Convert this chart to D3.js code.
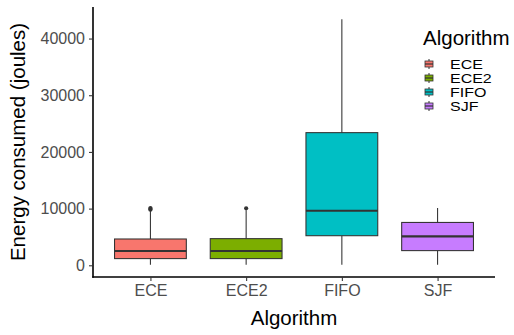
<!DOCTYPE html>
<html>
<head>
<meta charset="utf-8">
<script src="https://cdn.jsdelivr.net/npm/d3@7"></script>
<style>
  body { margin: 0; background: #fff; }
  svg { display: block; font-family: "Liberation Sans", Arial, sans-serif; }
</style>
</head>
<body>
<div id="chart"></div>
<script>
// values
var algorithms = ["ECE", "ECE2", "FIFO", "SJF"];
var fill_colors = ["#F8766D", "#7CAE00", "#00BFC4", "#C77CFF"];
var whisker_low = [100, 100, 100, 100];
var box_q1 = [1180, 1180, 5220, 2590];
var box_median = [2530, 2530, 9620, 5100];
var box_q3 = [4640, 4700, 23400, 7560];
var whisker_high = [9600, 9700, 43400, 10100];
var outliers = [[9800, 9950, 10100], [10050], [], []];
var y_ticks = [0, 10000, 20000, 30000, 40000];

var width = 514, height = 335;
var margin = {top: 7, right: 19, bottom: 58, left: 93};

var svg = d3.select("#chart").append("svg")
    .attr("width", width)
    .attr("height", height);

// discrete x with ggplot-like 0.6 padding
var x = d3.scalePoint()
    .domain(algorithms)
    .range([margin.left, width - margin.right])
    .padding(0.6);
var step = x.step();
var box_w = step * 0.75;

var y_min = d3.min(whisker_low), y_max = d3.max(whisker_high);
var y_pad = (y_max - y_min) * 0.05;
var y = d3.scaleLinear()
    .domain([y_min - y_pad, y_max + y_pad])
    .range([height - margin.bottom, margin.top]);

var boxes = algorithms.map(function(a, i) {
    return {name: a, fill: fill_colors[i], lo: whisker_low[i], q1: box_q1[i],
        med: box_median[i], q3: box_q3[i], hi: whisker_high[i], out: outliers[i]};
});

var g = svg.append("g");
var bg = g.selectAll("g.box").data(boxes).enter().append("g").attr("class", "box");

// whiskers
bg.append("line")
    .attr("x1", function(d) { return x(d.name); })
    .attr("x2", function(d) { return x(d.name); })
    .attr("y1", function(d) { return y(d.q3); })
    .attr("y2", function(d) { return y(d.hi); })
    .attr("stroke", "#333333").attr("stroke-width", 1.07);
bg.append("line")
    .attr("x1", function(d) { return x(d.name); })
    .attr("x2", function(d) { return x(d.name); })
    .attr("y1", function(d) { return y(d.q1); })
    .attr("y2", function(d) { return y(d.lo); })
    .attr("stroke", "#333333").attr("stroke-width", 1.07);
bg.append("rect")
    .attr("x", function(d) { return x(d.name) - box_w / 2; })
    .attr("width", box_w)
    .attr("y", function(d) { return y(d.q3); })
    .attr("height", function(d) { return y(d.q1) - y(d.q3); })
    .attr("fill", function(d) { return d.fill; })
    .attr("stroke", "#333333").attr("stroke-width", 1.07);
bg.append("line")
    .attr("x1", function(d) { return x(d.name) - box_w / 2; })
    .attr("x2", function(d) { return x(d.name) + box_w / 2; })
    .attr("y1", function(d) { return y(d.med); })
    .attr("y2", function(d) { return y(d.med); })
    .attr("stroke", "#333333").attr("stroke-width", 2.13);
bg.selectAll("circle")
    .data(function(d) { return d.out.map(function(v) { return {name: d.name, v: v}; }); })
    .enter().append("circle")
    .attr("cx", function(d) { return x(d.name); })
    .attr("cy", function(d) { return y(d.v); })
    .attr("r", 2.1)
    .attr("fill", "#333333");

// axes
var x_axis = svg.append("g")
    .attr("transform", "translate(0," + (height - margin.bottom) + ")")
    .call(d3.axisBottom(x).tickSize(4).tickPadding(4).tickSizeOuter(0));
var y_axis = svg.append("g")
    .attr("transform", "translate(" + margin.left + ",0)")
    .call(d3.axisLeft(y).tickValues(y_ticks).tickFormat(d3.format("d")).tickSize(4).tickPadding(4).tickSizeOuter(0));
[x_axis, y_axis].forEach(function(ax) {
    ax.select(".domain").attr("stroke", "#000").attr("stroke-width", 1.6);
    ax.selectAll(".tick line").attr("stroke", "#333333").attr("stroke-width", 1.07);
    ax.selectAll(".tick text").attr("fill", "#4D4D4D").style("font-size", "16px")
        .style("font-family", "'Liberation Sans', Arial, sans-serif");
});
x_axis.select(".domain").attr("d", "M" + (margin.left - 0.8) + ",0H" + (width - margin.right));
y_axis.select(".domain").attr("d", "M0," + margin.top + "V" + (height - margin.bottom + 0.8));

// axis titles
svg.append("text")
    .attr("x", (margin.left + width - margin.right) / 2)
    .attr("y", 325)
    .attr("text-anchor", "middle")
    .style("font-size", "20.5px")
    .text("Algorithm");
svg.append("text")
    .attr("transform", "translate(25," + ((margin.top + height - margin.bottom) / 2) + ") rotate(-90)")
    .attr("text-anchor", "middle")
    .style("font-size", "20.5px")
    .text("Energy consumed (joules)");

// legend
var legend = svg.append("g").attr("transform", "translate(423,0)");
legend.append("text")
    .attr("x", 0).attr("y", 44.5)
    .style("font-size", "20.5px")
    .text("Algorithm");
var key_y = d3.scalePoint().domain(algorithms).range([64, 106]);
var items = legend.selectAll("g.item").data(boxes).enter().append("g")
    .attr("class", "item")
    .attr("transform", function(d) { return "translate(0," + key_y(d.name) + ")"; });
items.append("line")
    .attr("x1", 6).attr("x2", 6).attr("y1", -5).attr("y2", 5)
    .attr("stroke", "#333333").attr("stroke-width", 1);
items.append("rect")
    .attr("x", 2).attr("y", -3).attr("width", 8).attr("height", 6)
    .attr("fill", function(d) { return d.fill; })
    .attr("stroke", "#333333").attr("stroke-width", 0.8);
items.append("line")
    .attr("x1", 2).attr("x2", 10).attr("y1", 0).attr("y2", 0)
    .attr("stroke", "#333333").attr("stroke-width", 1.2);
// labels look squashed vertically in the reference
items.append("text")
    .attr("transform", "translate(27,0) scale(1,0.8)")
    .attr("dy", "0.36em")
    .style("font-size", "16px")
    .text(function(d) { return d.name; });
</script>
</body>
</html>
